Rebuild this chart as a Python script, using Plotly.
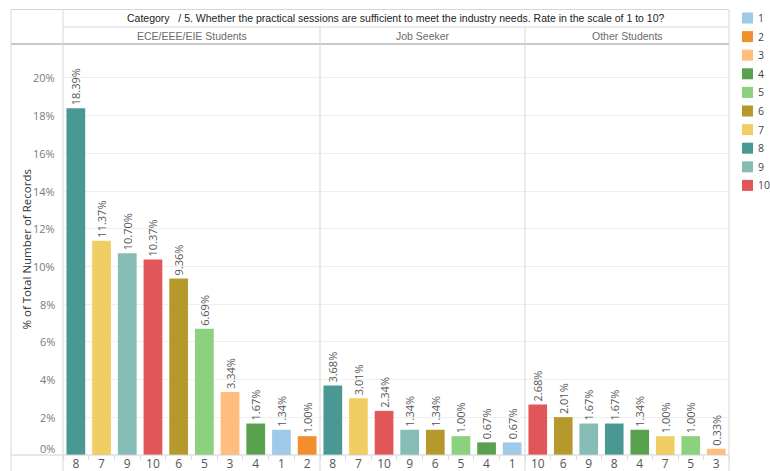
import plotly.graph_objects as go

# Survey question: practical sessions sufficiency, rated 1-10, split by respondent category
question = "Category \u00a0 / 5. Whether the practical sessions are sufficient to meet the industry needs. Rate in the scale of 1 to 10?"
y_title = "% of Total Number of Records"

panel_names = ["ECE/EEE/EIE Students", "Job Seeker", "Other Students"]

ece_ratings = ["8", "7", "9", "10", "6", "5", "3", "4", "1", "2"]
ece_values = [18.39, 11.37, 10.70, 10.37, 9.36, 6.69, 3.34, 1.67, 1.34, 1.00]

job_ratings = ["8", "7", "10", "9", "6", "5", "4", "1"]
job_values = [3.68, 3.01, 2.34, 1.34, 1.34, 1.00, 0.67, 0.67]

other_ratings = ["10", "6", "9", "8", "4", "7", "5", "3"]
other_values = [2.68, 2.01, 1.67, 1.67, 1.34, 1.00, 1.00, 0.33]

legend_ratings = ["1", "2", "3", "4", "5", "6", "7", "8", "9", "10"]
rating_colors = {
    "1": "#A0CBE8", "2": "#F28E2B", "3": "#FFBE7D", "4": "#59A14F", "5": "#8CD17D",
    "6": "#B6992D", "7": "#F1CE63", "8": "#499894", "9": "#86BCB6", "10": "#E15759",
}

y_ticks = [0, 2, 4, 6, 8, 10, 12, 14, 16, 18, 20]

# ---- page geometry (pixels) ----
W, H = 770, 471
PL, PR, PT, PB = 63, 729, 44, 455          # plot area edges
DIV1, DIV2 = 320, 525                      # panel boundaries


def fx(p):
    return (p - PL) / (PR - PL)


def fy(p):
    return (PB - p) / (PB - PT)


LABEL_FONT = "Open Sans, Noto Sans, sans-serif"
HEAD_FONT = "Liberation Sans, Arial, sans-serif"

panels = [(ece_ratings, ece_values), (job_ratings, job_values), (other_ratings, other_values)]
domains = [[0, fx(DIV1)], [fx(DIV1), fx(DIV2)], [fx(DIV2), 1]]

fig = go.Figure()
for i, (cats, vals) in enumerate(panels):
    ax = "" if i == 0 else str(i + 1)
    fig.add_trace(go.Bar(
        x=cats, y=vals,
        xaxis="x" + ax, yaxis="y",
        marker=dict(color=[rating_colors[c] for c in cats], line=dict(width=0)),
        text=[f"{v:.2f}%" for v in vals],
        textposition="outside", textangle=-90,
        textfont=dict(family=LABEL_FONT, size=11, color="#555555"),
        constraintext="none", cliponaxis=False,
        showlegend=False, hoverinfo="x+y",
    ))

xaxis_common = dict(
    type="category", showgrid=False, zeroline=False, showline=False,
    ticks="outside", tickson="boundaries", ticklen=4, tickcolor="#dddddd",
    tickfont=dict(family=LABEL_FONT, size=12, color="#555555"),
    automargin=False, fixedrange=True,
)

layout = dict(
    width=W, height=H,
    margin=dict(l=PL, r=W - PR, t=PT, b=H - PB, pad=0, autoexpand=False),
    paper_bgcolor="white", plot_bgcolor="white",
    bargap=0.27,
    yaxis=dict(
        range=[0, 21.8], tickvals=y_ticks, showticklabels=False,
        showgrid=True, gridcolor="#efefef", gridwidth=1,
        zeroline=False, showline=False, ticks="", automargin=False, fixedrange=True,
    ),
)
for i in range(3):
    key = "xaxis" if i == 0 else f"xaxis{i + 1}"
    layout[key] = dict(xaxis_common, domain=domains[i], anchor="y")
fig.update_layout(**layout)

annotations = []
# y tick labels (bottom one nudged up inside the pane)
for v in y_ticks:
    annotations.append(dict(
        x=fx(57), xref="paper", xanchor="right", y=v, yref="y", yanchor="middle",
        yshift=7 if v == 0 else 0,
        text=f"{v}%", showarrow=False,
        font=dict(family=LABEL_FONT, size=11, color="#7a7a7a"),
    ))
# y axis title
annotations.append(dict(
    x=fx(26), xref="paper", y=0.5, yref="paper", textangle=-90,
    text=y_title, showarrow=False, xanchor="center", yanchor="middle",
    font=dict(family=LABEL_FONT, size=11.5, color="#333333"),
))
# header title row
annotations.append(dict(
    x=0.5, xref="paper", y=fy(17.5), yref="paper", xanchor="center", yanchor="middle",
    text=question, showarrow=False,
    font=dict(family=HEAD_FONT, size=10.5, color="#222222"),
))
# panel headers
for name, (a, b) in zip(panel_names, domains):
    annotations.append(dict(
        x=(a + b) / 2, xref="paper", y=fy(36), yref="paper", xanchor="center", yanchor="middle",
        text=name, showarrow=False,
        font=dict(family=HEAD_FONT, size=10.5, color="#6b6b6b"),
    ))

shapes = []
# legend swatches and labels
for k, r in enumerate(legend_ratings):
    cy = 18 + k * 18.6
    shapes.append(dict(
        type="rect", xref="paper", yref="paper",
        x0=fx(742), x1=fx(753), y0=fy(cy - 5.5), y1=fy(cy + 5.5),
        fillcolor=rating_colors[r], line=dict(width=0),
    ))
    annotations.append(dict(
        x=fx(756), xref="paper", xanchor="left", y=fy(cy), yref="paper", yanchor="middle",
        text=r, showarrow=False,
        font=dict(family=LABEL_FONT, size=10.5, color="#444444"),
    ))


def hline(py, x0, x1, color="#d6d6d6", width=1):
    shapes.append(dict(type="line", xref="paper", yref="paper",
                       x0=fx(x0), x1=fx(x1), y0=fy(py), y1=fy(py),
                       line=dict(color=color, width=width)))


def vline(px, y0, y1, color="#d6d6d6", width=1):
    shapes.append(dict(type="line", xref="paper", yref="paper",
                       x0=fx(px), x1=fx(px), y0=fy(y0), y1=fy(y1),
                       line=dict(color=color, width=width)))


# table frame
hline(9.5, 11, PR)
hline(27, PL, PR)
hline(PT, 11, PR, color="#c8c8c8", width=2)
hline(PB, 11, PR, color="#cfcfcf", width=1)
vline(11, 9.5, H + 5)
vline(PL, 9.5, H + 5)
vline(PR, 9.5, H + 5)
vline(DIV1, 27, H + 5)
vline(DIV2, 27, H + 5)

fig.update_layout(shapes=shapes, annotations=annotations)

fig.write_html("out.html")
